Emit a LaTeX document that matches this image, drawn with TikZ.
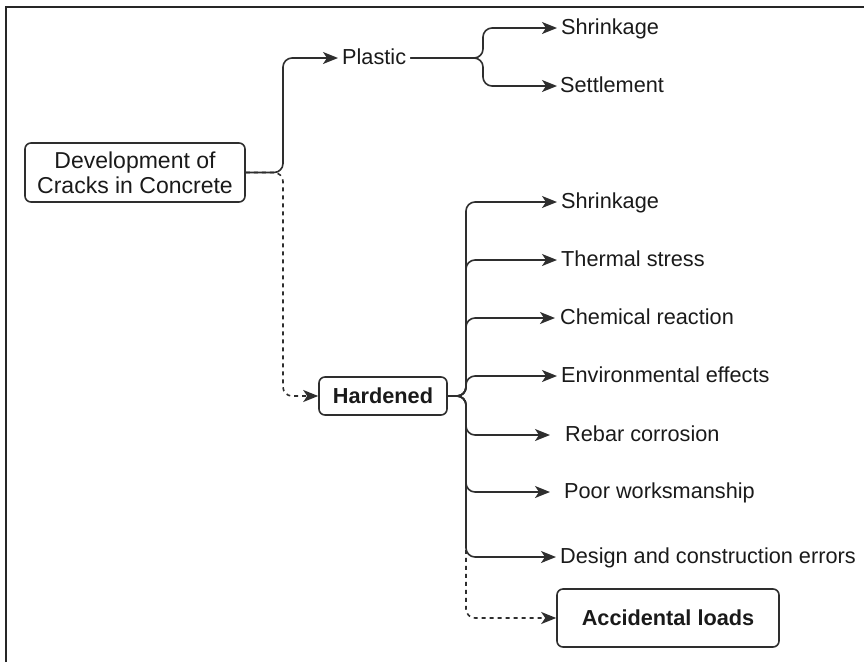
\documentclass[tikz,border=0pt]{standalone}
\usepackage{fontspec}
\setmainfont{Liberation Sans}
\usetikzlibrary{arrows.meta,positioning}

\definecolor{linegray}{HTML}{2E2E2E}
\definecolor{textgray}{HTML}{1A1A1A}

\begin{document}
\begin{tikzpicture}[
        x=1pt, y=-1pt,
        every node/.style={text=textgray, font=\fontsize{21.7}{25}\selectfont},
        box/.style={draw=linegray, line width=1.6pt, rounded corners=6pt, align=center},
        boldbox/.style={box, font=\fontsize{21.7}{25}\selectfont\bfseries},
        leaf/.style={anchor=west, inner xsep=4pt, inner ysep=0pt, text height=16pt, text depth=4pt},
        branch/.style={draw=linegray, line width=1.6pt, rounded corners=9pt, -{Stealth[length=15pt,width=12pt,inset=4pt]}},
        dashbranch/.style={branch, dash pattern=on 4pt off 4pt}
    ]
  \useasboundingbox (0,0) rectangle (864,662);

  % Frame
  \draw[line width=2.6pt, draw=black!85] (6,662) -- (6,7) -- (864,7);

  % Nodes
  \node[box, font=\fontsize{23}{25}\selectfont, minimum width=220pt, minimum height=59pt] (root) at (135,172.5) {Development of\\Cracks in Concrete};
  \node[leaf] (plastic) at (338,58) {Plastic};
  \node[leaf] (pshrink) at (557,28) {Shrinkage};
  \node[leaf, inner xsep=3pt] (settle) at (557,86) {Settlement};

  \node[boldbox, minimum width=128pt, minimum height=38pt] (hard) at (383,396) {Hardened};
  \node[leaf] (hshrink) at (557,202) {Shrinkage};
  \node[leaf] (therm) at (557,260) {Thermal stress};
  \node[leaf, inner xsep=5pt] (chem) at (555,318) {Chemical reaction};
  \node[leaf] (env) at (557,376) {Environmental effects};
  \node[leaf, inner xsep=15pt] (rebar) at (550,435) {Rebar corrosion};
  \node[leaf, inner xsep=14pt] (poor) at (550,492) {Poor worksmanship};
  \node[leaf, inner xsep=4pt] (design) at (556,557) {Design and construction errors};
  \node[boldbox, minimum width=222pt, minimum height=58pt] (acc) at (668,618) {Accidental loads};

  \coordinate (rjoin) at (283,172.5);
  \coordinate (pjoin) at (483,58);
  \coordinate (hjoin) at (466,396);

  % Plastic stage
  \draw[branch] (root.east) -- (rjoin) |- (plastic.west);
  \draw[branch] (plastic.east) -- (pjoin) |- (pshrink.west);
  \draw[branch] (plastic.east) -- (pjoin) |- (settle.west);

  % Hardened stage
  \draw[dashbranch] (root.east) -- (rjoin) |- (hard.west);
  \draw[dashbranch] (hard.east) -- (hjoin) |- (acc.west);
  \draw[branch] (hard.east) -- (hjoin) |- (hshrink.west);
  \draw[branch] (hard.east) -- (hjoin) |- (therm.west);
  \draw[branch] (hard.east) -- (hjoin) |- (chem.west);
  \draw[branch] (hard.east) -- (hjoin) |- (env.west);
  \draw[branch] (hard.east) -- (hjoin) |- (rebar.west);
  \draw[branch] (hard.east) -- (hjoin) |- (poor.west);
  \draw[branch] (hard.east) -- (hjoin) |- (design.west);
\end{tikzpicture}
\end{document}
